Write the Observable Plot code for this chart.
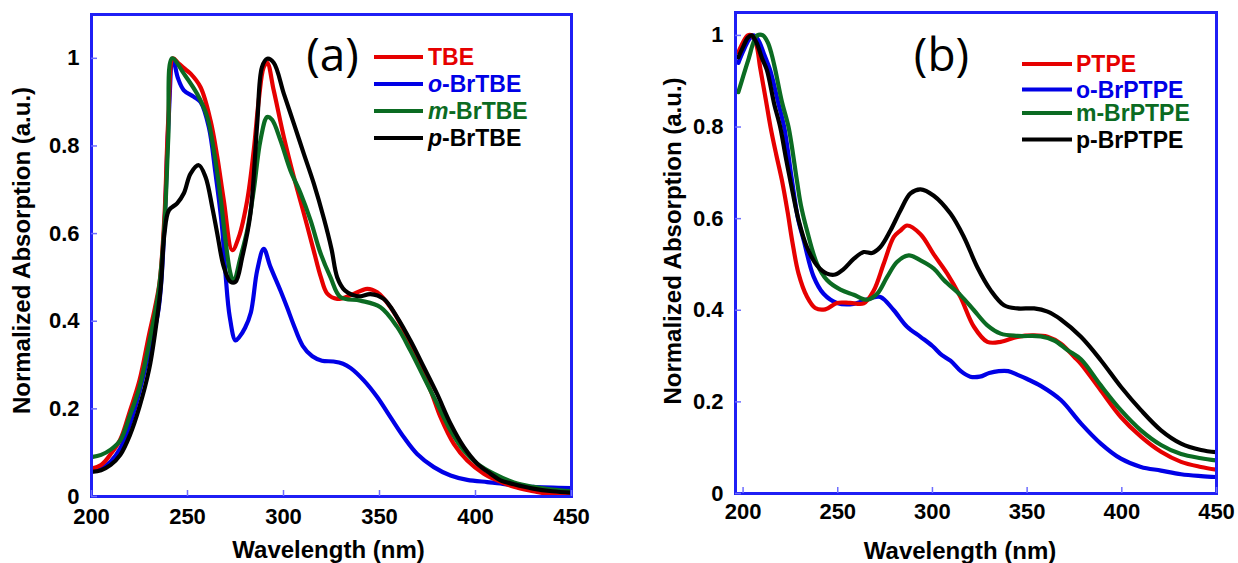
<!DOCTYPE html>
<html><head><meta charset="utf-8">
<script src="https://cdn.jsdelivr.net/npm/d3@7"></script>
<script src="https://cdn.jsdelivr.net/npm/@observablehq/plot@0.6"></script>
<style>
body{margin:0;background:#fff;}
#wrap{position:relative;width:1238px;height:563px;overflow:hidden;background:#fff;}
.panel{position:absolute;top:0;}
#legend{position:absolute;left:0;top:0;pointer-events:none;}
</style></head><body><div id="wrap"></div>
<script>
// ---------- Panel (a) data ----------
const tbeWl = [200,205,210,215,220,225,230,233,235.5,238,240,242.5,245,248,251.6,256.8,262,265.5,268.9,273.3,276.7,281.1,284.5,287.1,289.7,291.5,294.9,300.2,305.4,310.6,315.8,319.5,322.8,328,334.9,343.6,348.8,355.7,362.7,369.6,376.6,381.8,388.7,395.7,404.3,411.3,420,430,440,450];
const tbeAbs = [0.064,0.072,0.097,0.13,0.195,0.265,0.37,0.43,0.49,0.64,0.86,1.0,0.99,0.978,0.965,0.934,0.858,0.775,0.676,0.562,0.592,0.676,0.79,0.904,0.98,0.99,0.927,0.82,0.729,0.646,0.56,0.5,0.463,0.451,0.459,0.474,0.466,0.432,0.379,0.31,0.242,0.181,0.12,0.082,0.052,0.037,0.022,0.012,0.004,0.003];

const oTbeWl = [200,205,210,215,220,225,230,235,238,240,242.5,245,248.1,253.3,256.8,261.1,264.6,268,269.8,272,275,277,280,283,286.3,289.7,293.2,298.4,302,305,310,315,320,326,331,335,341.8,348.8,355.7,362.7,369.6,378.3,387,395.7,406.1,413,420,430,450];
const oTbeAbs = [0.06,0.064,0.08,0.11,0.165,0.24,0.33,0.43,0.62,0.845,0.997,0.955,0.927,0.912,0.9,0.843,0.737,0.615,0.508,0.41,0.356,0.364,0.385,0.42,0.516,0.565,0.524,0.47,0.43,0.395,0.344,0.32,0.31,0.308,0.303,0.293,0.265,0.227,0.181,0.135,0.097,0.067,0.048,0.038,0.033,0.03,0.025,0.022,0.019];

const mTbeWl = [200,205,210,215,220,225,230,235,238,240,242,248.1,255,260.3,263.7,267.2,269.8,272.4,274,277.6,281.1,284.5,288,291.5,294,298.4,303.6,308.9,314.1,319.3,324.5,329.7,340.1,350.5,359.2,366.1,373.1,380,387,393.9,400.9,409.5,420,430,440,450];
const mTbeAbs = [0.09,0.095,0.107,0.128,0.185,0.25,0.35,0.47,0.62,0.82,1.0,0.965,0.919,0.866,0.79,0.683,0.584,0.508,0.49,0.546,0.607,0.699,0.813,0.866,0.86,0.813,0.744,0.692,0.63,0.555,0.5,0.455,0.447,0.432,0.387,0.333,0.272,0.212,0.151,0.105,0.075,0.052,0.032,0.022,0.016,0.012];

const pTbeWl = [200,205,210,215,220,225,230,233,236,238,240.3,244.6,248.1,251.6,255.9,259.4,262.9,265.5,268.9,272.4,275,278.5,282.8,286.3,288.8,291.5,294.9,300.2,305.4,310.6,315.8,321,325,328,332,336,340,345.3,352.2,359.2,366.1,373.1,380,387,393.9,400.9,407.8,413,420,430,440,450];
const pTbeAbs = [0.056,0.06,0.072,0.095,0.14,0.205,0.29,0.37,0.475,0.6,0.653,0.669,0.692,0.737,0.756,0.729,0.66,0.6,0.524,0.49,0.49,0.546,0.646,0.851,0.98,0.999,0.99,0.919,0.851,0.782,0.714,0.635,0.565,0.5,0.47,0.46,0.457,0.462,0.451,0.409,0.356,0.295,0.234,0.166,0.113,0.075,0.052,0.037,0.028,0.018,0.012,0.009];

// ---------- Panel (b) data ----------
const ptpeWl = [197.5,200,202.5,204.5,207,209,212,214.5,217.5,220.5,223.5,226,229.3,233.7,238.1,243.4,249.6,256.6,263.7,269,274.3,279.6,283.1,286.6,293.7,300.7,307.8,314.8,321.9,329,336,344.9,353.7,360.8,367.8,374.9,378.4,388.9,399.5,410.1,420.7,431.3,441.8,450];
const ptpeAbs = [0.963,0.985,1.0,1.0,0.98,0.93,0.86,0.8,0.74,0.684,0.615,0.55,0.48,0.43,0.405,0.402,0.416,0.416,0.415,0.443,0.502,0.56,0.574,0.585,0.566,0.522,0.48,0.429,0.364,0.331,0.331,0.342,0.345,0.342,0.327,0.298,0.283,0.225,0.167,0.124,0.091,0.069,0.058,0.052];

const oPtpeWl = [197.5,200,203,205.5,208,211,214.3,218.7,221.7,225.8,229,232,237.2,242.5,249.6,258.4,267.2,272.5,279.6,286.6,293.7,300,305,309.5,315,320,325,330,335,340,345,350,357.2,367.8,378.4,388.9,399.5,410.1,420.7,431.3,441.8,450];
const oPtpeAbs = [0.94,0.965,0.99,1.0,0.99,0.96,0.924,0.851,0.8,0.684,0.6,0.553,0.474,0.436,0.416,0.414,0.426,0.429,0.4,0.364,0.342,0.322,0.302,0.29,0.267,0.255,0.255,0.263,0.267,0.267,0.259,0.25,0.235,0.204,0.153,0.109,0.076,0.058,0.05,0.042,0.038,0.036];

const mPtpeWl = [197.5,200,203,205.5,207.5,210.5,213,215,217,220.5,224,228.4,230.5,233.7,239,244.3,251.4,258.4,265.5,270.8,276.1,281.4,287.5,293.7,300.7,306,314.8,321.9,329,336,344.9,357.2,364.3,371.3,378.4,388.9,399.5,410.1,420.7,431.3,441.8,450];
const mPtpeAbs = [0.876,0.91,0.95,0.985,1.0,1.0,0.985,0.96,0.925,0.855,0.8,0.684,0.63,0.575,0.502,0.466,0.445,0.434,0.423,0.436,0.473,0.506,0.52,0.509,0.491,0.466,0.433,0.4,0.367,0.349,0.344,0.343,0.334,0.313,0.293,0.236,0.182,0.138,0.106,0.086,0.077,0.072];

const pPtpeWl = [197.5,200,202.5,204.5,207,210,212.6,216.4,219.6,222.5,224.9,229.3,233.7,239,244.3,248.7,253.1,258.4,263.7,268.1,272.5,277.8,283.1,288.4,293.7,300.7,309.5,316.6,323.7,330.7,337.8,344.9,353.7,360.8,367.8,378.4,388.9,399.5,410.1,420.7,431.3,441.8,450];
const pPtpeAbs = [0.952,0.975,0.995,1.0,0.985,0.95,0.924,0.851,0.8,0.735,0.684,0.597,0.538,0.498,0.48,0.478,0.49,0.512,0.527,0.525,0.538,0.574,0.618,0.655,0.664,0.65,0.611,0.56,0.494,0.444,0.411,0.404,0.404,0.397,0.38,0.342,0.291,0.233,0.182,0.138,0.109,0.095,0.09];

const xTicks = [200, 250, 300, 350, 400, 450];
const yTicks = [0, 0.2, 0.4, 0.6, 0.8, 1];
const seriesNamesA = ["TBE", "o-BrTBE", "m-BrTBE", "p-BrTBE"];
const seriesNamesB = ["PTPE", "o-BrPTPE", "m-BrPTPE", "p-BrPTPE"];
const colors = ["#e60000", "#0000e6", "#0b6b22", "#000000"];

const FONT = "'Liberation Sans', Arial, Helvetica, sans-serif";
const FRAME = "#1f1ff5";
const TICK = "#6d6dff";

function rows(name, wl, abs) { return wl.map((w, i) => ({name, wl: w, abs: abs[i]})); }

function panel({data, xDomain, yDomain, margins, width, tag, tagDx, tagDy, xLabelDx, xLabelDy, yLabelDx, yLabelDy, xPad}) {
  const drawOrder = [1, 0, 2, 3];
  return Plot.plot({
    width, height: 563,
    marginLeft: margins[0], marginRight: margins[1], marginTop: margins[2], marginBottom: margins[3],
    style: {fontFamily: FONT, background: "#fff", overflow: "visible"},
    x: {domain: xDomain},
    y: {domain: yDomain},
    marks: [
      ...drawOrder.map(i => Plot.line(data[i], {x: "wl", y: "abs", stroke: colors[i], strokeWidth: 4.2, curve: "catmull-rom", clip: true})),
      Plot.frame({stroke: FRAME, strokeWidth: 3}),
      Plot.axisX(xTicks, {anchor: "bottom", tickSize: 6, dy: -6, stroke: TICK, strokeWidth: 1.5, fill: "none", label: null}),
      Plot.axisY(yTicks, {anchor: "left", tickSize: 6, dx: 6, stroke: TICK, strokeWidth: 1.5, fill: "none", label: null}),
      Plot.axisX(xTicks, {anchor: "bottom", tickSize: 0, tickPadding: xPad, fontSize: 22, fontWeight: "bold", fill: "#000", tickFormat: d => String(d), label: null}),
      Plot.axisY(yTicks, {anchor: "left", tickSize: 0, tickPadding: 12, fontSize: 22, fontWeight: "bold", fill: "#000", tickFormat: d => String(d), label: null}),
      Plot.text(["Wavelength (nm)"], {frameAnchor: "bottom", dx: xLabelDx, dy: xLabelDy, fontSize: 24, fontWeight: "bold", fill: "#000", textAnchor: "middle", lineAnchor: "middle"}),
      Plot.text(["Normalized Absorption (a.u.)"], {frameAnchor: "left", rotate: -90, dx: yLabelDx, dy: yLabelDy, fontSize: 24, fontWeight: "bold", fill: "#000", textAnchor: "middle", lineAnchor: "middle"}),
      Plot.text([tag], {frameAnchor: "top-left", dx: tagDx, dy: tagDy, fontSize: 46, fontFamily: "'Open Sans', 'Noto Sans', sans-serif", fill: "#000", textAnchor: "middle", lineAnchor: "middle"})
    ]
  });
}

const dataA = [rows("TBE", tbeWl, tbeAbs), rows("o-BrTBE", oTbeWl, oTbeAbs), rows("m-BrTBE", mTbeWl, mTbeAbs), rows("p-BrTBE", pTbeWl, pTbeAbs)];
const dataB = [rows("PTPE", ptpeWl, ptpeAbs), rows("o-BrPTPE", oPtpeWl, oPtpeAbs), rows("m-BrPTPE", mPtpeWl, mPtpeAbs), rows("p-BrPTPE", pPtpeWl, pPtpeAbs)];

const wrap = document.getElementById("wrap");
const pa = panel({data: dataA, xDomain: [200, 450], yDomain: [0, 1.1], margins: [91, 49, 14, 67], width: 620,
  tag: "(a)", tagDx: 241, tagDy: 42, xLabelDx: -3, xLabelDy: 54, yLabelDx: -69, yLabelDy: -5, xPad: 12});
const pb = panel({data: dataB, xDomain: [196, 450], yDomain: [0, 1.05], margins: [115, 22, 12, 70], width: 618,
  tag: "(b)", tagDx: 206, tagDy: 44, xLabelDx: -16, xLabelDy: 58, yLabelDx: -62, yLabelDy: -12, xPad: 10});
const da = document.createElement("div"); da.className = "panel"; da.style.left = "0px"; da.appendChild(pa);
const db = document.createElement("div"); db.className = "panel"; db.style.left = "620px"; db.appendChild(pb);
wrap.appendChild(da); wrap.appendChild(db);

// ---------- Legends ----------
const svg = d3.select(wrap).append("svg").attr("id", "legend").attr("width", 1238).attr("height", 563);
function legend(names, italicPrefix, x1, x2, tx, ys) {
  names.forEach((n, i) => {
    svg.append("line").attr("x1", x1).attr("x2", x2).attr("y1", ys[i]).attr("y2", ys[i])
      .attr("stroke", colors[i]).attr("stroke-width", 4.2);
    const t = svg.append("text").attr("x", tx).attr("y", ys[i]).attr("dominant-baseline", "central")
      .attr("font-family", FONT).attr("font-size", 23).attr("font-weight", "bold").attr("fill", colors[i]);
    const dash = n.indexOf("-");
    if (dash > 0) {
      t.append("tspan").attr("font-style", italicPrefix ? "italic" : "normal").text(n.slice(0, dash));
      t.append("tspan").text(n.slice(dash));
    } else t.text(n);
  });
}
legend(seriesNamesA, true, 374, 423, 428, [57, 84, 111, 138]);
legend(seriesNamesB, false, 1022, 1072, 1076, [64, 89.5, 113, 139.5]);
</script></body></html>
